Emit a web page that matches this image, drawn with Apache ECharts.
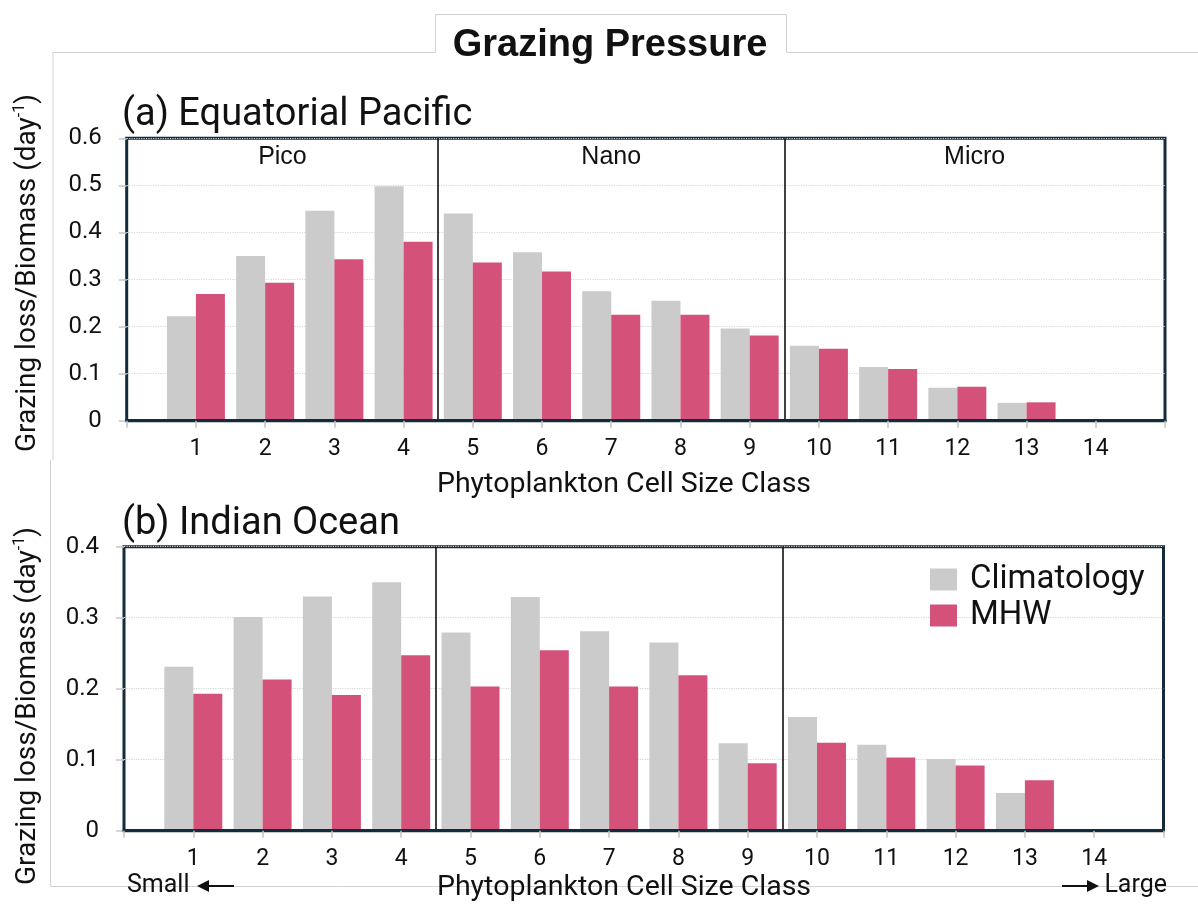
<!DOCTYPE html>
<html><head><meta charset="utf-8">
<script src="https://cdn.jsdelivr.net/npm/echarts@6/dist/echarts.min.js"></script>
<style>html,body{margin:0;padding:0;background:#fff}#c{width:1198px;height:907px}</style>
</head><body><div id="c"></div>
<script>
// ---- data ----
const sizeClasses = [1, 2, 3, 4, 5, 6, 7, 8, 9, 10, 11, 12, 13, 14];
const climPacific = [0.222, 0.350, 0.446, 0.498, 0.440, 0.358, 0.275, 0.255, 0.196, 0.159, 0.114, 0.070, 0.038, 0];
const mhwPacific  = [0.269, 0.293, 0.343, 0.380, 0.336, 0.317, 0.225, 0.225, 0.181, 0.153, 0.110, 0.072, 0.039, 0];
const climIndian  = [0.231, 0.301, 0.330, 0.350, 0.279, 0.329, 0.281, 0.265, 0.123, 0.160, 0.121, 0.101, 0.053, 0];
const mhwIndian   = [0.193, 0.213, 0.191, 0.247, 0.203, 0.254, 0.203, 0.219, 0.095, 0.124, 0.103, 0.092, 0.071, 0];
const seriesNames = ['Climatology', 'MHW'];
const sizeGroups = ['Pico', 'Nano', 'Micro'];
const groupBounds = [0, 4.5, 9.5, 15];
const xRange = [0, 15];
const yMaxPacific = 0.6;
const yMaxIndian = 0.4;
const panelTitles = ['(a) Equatorial Pacific', '(b) Indian Ocean'];
const chartTitle = 'Grazing Pressure';
const xName = 'Phytoplankton Cell Size Class';
const sizeEnds = ['Small', 'Large'];

// ---- styles ----
const GRAY = '#cbcbcb', PINK = '#d4527a', FRAME = '#132b3b', TXT = '#111';
const FONT = 'Roboto';

function pairs(xs, ys) { return xs.map((x, i) => [x, ys[i]]); }

function xAxisCfg(gi) {
  return {
    type: 'value', gridIndex: gi, min: xRange[0], max: xRange[1], interval: 1, z: 10,
    axisLine: { show: true, onZero: false, lineStyle: { color: FRAME, width: 3 } },
    axisTick: { show: true, length: 7, lineStyle: { color: '#c4c4c4', width: 1.5 } },
    splitLine: { show: false },
    axisLabel: {
      margin: 17, fontFamily: FONT, fontSize: 23, color: TXT,
      showMinLabel: true, showMaxLabel: true,
      formatter: v => (sizeClasses.indexOf(v) >= 0 ? String(v) : '')
    }
  };
}
function yAxisCfg(gi, max) {
  return {
    type: 'value', gridIndex: gi, min: 0, max: max, interval: 0.1,
    axisLine: { show: false },
    axisTick: { show: true, length: 8, lineStyle: { color: '#c8c8c8', width: 1.5 } },
    splitLine: { show: true, lineStyle: { color: '#d6d6d6', type: 'dotted', width: 1.2 } },
    axisLabel: { margin: 25, fontFamily: FONT, fontSize: 24, color: TXT,
      formatter: v => (Math.abs(v) < 1e-9 ? '0' : v.toFixed(1)) }
  };
}
function sepLine() {
  return {
    silent: true, symbol: ['none', 'none'], label: { show: false },
    lineStyle: { color: '#111', width: 1.6, type: 'solid' },
    emphasis: { disabled: true },
    data: groupBounds.slice(1, -1).map(b => ({ xAxis: b }))
  };
}
function barSeries(name, gi, ys, color) {
  return {
    type: 'bar', name: name, xAxisIndex: gi, yAxisIndex: gi,
    data: pairs(sizeClasses, ys), barWidth: 29, barGap: '0%',
    itemStyle: { color: color }, emphasis: { disabled: true }
  };
}
function markerSeries(gi, withLabels) {
  const s = {
    type: 'line', name: 'groups' + gi, xAxisIndex: gi, yAxisIndex: gi, data: [],
    silent: true, markLine: sepLine()
  };
  if (withLabels) {
    s.markArea = {
      silent: true,
      itemStyle: { color: 'rgba(0,0,0,0)' },
      label: { show: true, position: 'insideTop', distance: 6,
        fontFamily: 'Liberation Sans, Arial', fontSize: 25, color: TXT },
      data: sizeGroups.map((g, i) => [{ name: g, xAxis: groupBounds[i] }, { xAxis: groupBounds[i + 1] }])
    };
  }
  return s;
}

function yName(cy) {
  return {
    type: 'text', x: 28, y: cy, rotation: Math.PI / 2,
    style: {
      text: '{a|Grazing loss/Biomass (day}{s|-1}{a|)}',
      align: 'center', verticalAlign: 'middle',
      rich: {
        a: { fontFamily: FONT, fontSize: 28, lineHeight: 33, fill: TXT },
        s: { fontFamily: FONT, fontSize: 16, lineHeight: 16, verticalAlign: 'top', fill: TXT }
      }
    }
  };
}
function txt(x, y, text, font, align) {
  return { type: 'text', x: x, y: y, style: { text: text, font: font, fill: TXT, align: align || 'left', verticalAlign: 'middle' } };
}
// arrow glyph: thin shaft + solid head (dir -1 = left, +1 = right)
function arrow(x0, x1, y, dir) {
  const head = dir < 0 ? x0 : x1;
  const back = head - dir * 12;
  return [
    { type: 'line', silent: true, shape: { x1: dir < 0 ? back : x0, y1: y, x2: dir < 0 ? x1 : back, y2: y },
      style: { stroke: TXT, lineWidth: 2 } },
    { type: 'polygon', silent: true, shape: { points: [[head, y], [back, y - 6], [back, y + 6]] },
      style: { fill: TXT } }
  ];
}

const option = {
  animation: false,
  backgroundColor: '#fff',
  grid: [
    { left: 126.7, right: 33, top: 138.3, height: 282.4, show: true, borderColor: FRAME, borderWidth: 3, backgroundColor: 'transparent' },
    { left: 124, right: 34.5, top: 546.7, height: 284, show: true, borderColor: FRAME, borderWidth: 3, backgroundColor: 'transparent' }
  ],
  xAxis: [xAxisCfg(0), xAxisCfg(1)],
  yAxis: [yAxisCfg(0, yMaxPacific), yAxisCfg(1, yMaxIndian)],
  legend: {
    data: seriesNames, orient: 'vertical', left: 925, top: 558,
    icon: 'rect', itemWidth: 27, itemHeight: 22, itemGap: 3,
    selectedMode: false,
    textStyle: { fontFamily: FONT, fontSize: 33, color: TXT, padding: [0, 0, 0, 8] }
  },
  series: [
    barSeries(seriesNames[0], 0, climPacific, GRAY),
    barSeries(seriesNames[1], 0, mhwPacific, PINK),
    barSeries(seriesNames[0], 1, climIndian, GRAY),
    barSeries(seriesNames[1], 1, mhwIndian, PINK),
    markerSeries(0, true),
    markerSeries(1, false)
  ],
  graphic: [
    { type: 'polyline', silent: true, shape: { points: [[53, 460], [53, 52.5], [435.5, 52.5], [435.5, 14.5], [786.5, 14.5], [786.5, 52.5], [1198, 52.5]] },
      style: { stroke: '#d2d2d2', lineWidth: 1, fill: null } },
    { type: 'polyline', silent: true, shape: { points: [[50.5, 460], [50.5, 886.5], [1198, 886.5]] },
      style: { stroke: '#d2d2d2', lineWidth: 1, fill: null } },
    txt(610, 45.5, chartTitle, 'bold 38px "Liberation Sans", Arial', 'center'),
    txt(122, 115, panelTitles[0], '38px ' + FONT),
    txt(122, 524, panelTitles[1], '38px ' + FONT),
    yName(273),
    yName(706),
    txt(624, 485, xName, '28.5px ' + FONT, 'center'),
    txt(624, 888, xName, '28.5px ' + FONT, 'center'),
    txt(127, 886, sizeEnds[0], '25px ' + FONT, 'left'),
    txt(1167, 886, sizeEnds[1], '25px ' + FONT, 'right')
  ].concat(arrow(197, 234, 886, -1), arrow(1062, 1099, 886, 1))
};

const chart = echarts.init(document.getElementById('c'), null, { renderer: 'canvas' });
chart.setOption(option);
</script>
</body></html>
